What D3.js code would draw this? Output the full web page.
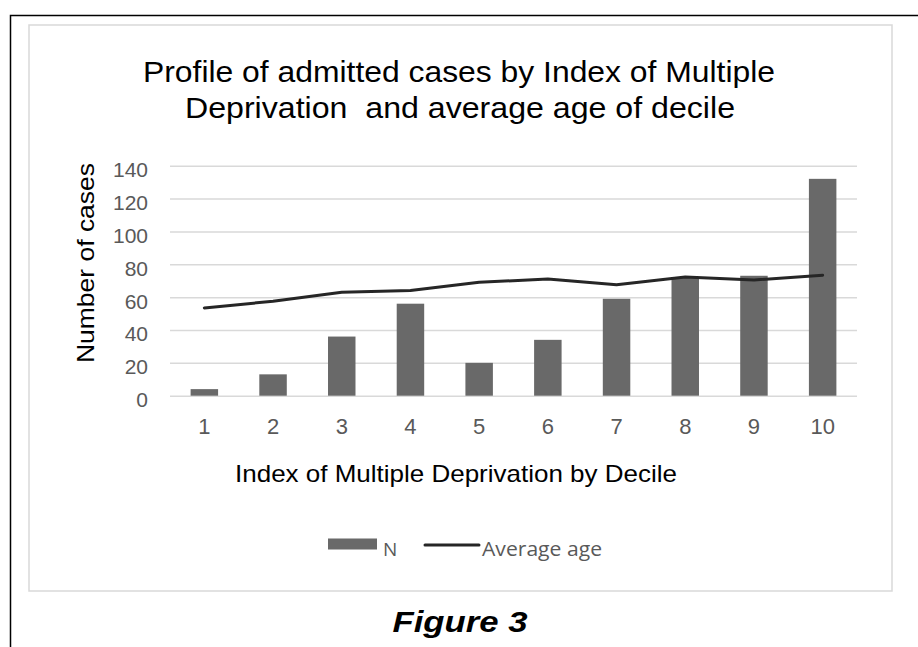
<!DOCTYPE html>
<html>
<head>
<meta charset="utf-8">
<script src="https://cdn.jsdelivr.net/npm/d3@7"></script>
<style>
  html, body { margin: 0; padding: 0; background: #fff; }
  svg { display: block; }
</style>
</head>
<body>
<svg id="chart" width="918" height="647"></svg>
<script>
const deciles = ["1", "2", "3", "4", "5", "6", "7", "8", "9", "10"];
const casesN = [4, 13, 36, 56, 20, 34, 59, 72, 73, 132];
const averageAge = [53.4, 57.5, 63, 64, 69, 71, 67.6, 72.2, 70.4, 73.3];
const yTicks = [0, 20, 40, 60, 80, 100, 120, 140];
const titleLines = ["Profile of admitted cases by Index of Multiple", "Deprivation  and average age of decile"];
const xTitle = "Index of Multiple Deprivation by Decile";
const yTitle = "Number of cases";
const legendLabels = ["N", "Average age"];
const caption = "Figure 3";

(function () {
const svg = d3.select("#chart");
svg.append("rect").attr("width", 918).attr("height", 647).attr("fill", "#fff");

// outer black frame (right/bottom clipped)
svg.append("path").attr("d", "M10.5,647 V15.5 H918")
  .attr("fill", "none").attr("stroke", "#000").attr("stroke-width", 1.5);

// chart area frame
svg.append("rect").attr("x", 29).attr("y", 25).attr("width", 863).attr("height", 566)
  .attr("fill", "#fff").attr("stroke", "#d9d9d9").attr("stroke-width", 1.5);

const pLeft = 170, pRight = 857, pTop = 165.7, pBottom = 395.7;
const x = d3.scaleBand().domain(deciles).range([pLeft, pRight]).paddingInner(0.6).paddingOuter(0.3);
const xc = d3.scaleBand().domain(deciles).range([pLeft, pRight]);
const y = d3.scaleLinear().domain([0, 140]).range([pBottom, pTop]);
const font = "'Liberation Sans', Arial, sans-serif";

// gridlines + y labels
const yAxis = svg.append("g").attr("transform", `translate(${pLeft},0)`)
  .call(d3.axisLeft(y).tickValues(yTicks).tickSize(-(pRight - pLeft)).tickPadding(22));
yAxis.select(".domain").remove();
yAxis.selectAll(".tick line").attr("stroke", "#d9d9d9").attr("stroke-width", 1.5);
yAxis.selectAll(".tick text").attr("fill", "#595959").attr("dy", "0.52em")
  .style("font-family", font).style("font-size", "21px");

// x labels
const xAxis = svg.append("g").attr("transform", `translate(0,${pBottom})`)
  .call(d3.axisBottom(xc).tickSize(0).tickPadding(23));
xAxis.select(".domain").remove();
xAxis.selectAll(".tick text").attr("fill", "#595959")
  .style("font-family", font).style("font-size", "22px");

// bars
svg.append("g").selectAll("rect").data(casesN).enter().append("rect")
  .attr("x", (d, i) => x(deciles[i]))
  .attr("y", d => y(d))
  .attr("width", x.bandwidth())
  .attr("height", d => y(0) - y(d))
  .attr("fill", "#696969");

// line
const line = d3.line().x((d, i) => xc(deciles[i]) + xc.bandwidth() / 2).y(d => y(d));
svg.append("path").datum(averageAge).attr("d", line)
  .attr("fill", "none").attr("stroke", "#262626").attr("stroke-width", 3)
  .attr("stroke-linejoin", "round").attr("stroke-linecap", "round");

// title
svg.append("text").attr("x", 459).attr("y", 82).attr("text-anchor", "middle")
  .attr("textLength", 632).attr("lengthAdjust", "spacingAndGlyphs")
  .style("white-space", "pre")
  .style("font-family", font).style("font-size", "29px").attr("fill", "#000").text(titleLines[0]);
svg.append("text").attr("x", 460).attr("y", 118).attr("text-anchor", "middle")
  .attr("textLength", 550).attr("lengthAdjust", "spacingAndGlyphs")
  .style("white-space", "pre")
  .style("font-family", font).style("font-size", "29px").attr("fill", "#000").text(titleLines[1]);

// axis titles
svg.append("text").attr("transform", "translate(94,263) rotate(-90)").attr("text-anchor", "middle")
  .attr("textLength", 200).attr("lengthAdjust", "spacingAndGlyphs")
  .style("font-family", font).style("font-size", "24px").attr("fill", "#000").text(yTitle);
svg.append("text").attr("x", 456).attr("y", 482).attr("text-anchor", "middle")
  .attr("textLength", 442).attr("lengthAdjust", "spacingAndGlyphs")
  .style("font-family", font).style("font-size", "24px").attr("fill", "#000").text(xTitle);

// legend
const lg = svg.append("g");
lg.append("rect").attr("x", 328).attr("y", 538.5).attr("width", 49).attr("height", 11).attr("fill", "#696969");
lg.append("text").attr("x", 383).attr("y", 556).attr("fill", "#595959")
  .style("font-family", "'Open Sans', sans-serif").style("font-size", "19px").text(legendLabels[0]);
lg.append("line").attr("x1", 425).attr("x2", 479).attr("y1", 545).attr("y2", 545)
  .attr("stroke", "#262626").attr("stroke-width", 3).attr("stroke-linecap", "round");
lg.append("text").attr("x", 482).attr("y", 556).attr("fill", "#595959")
  .attr("textLength", 120).attr("lengthAdjust", "spacingAndGlyphs")
  .style("font-family", "'Open Sans', sans-serif").style("font-size", "19.5px").text(legendLabels[1]);

// caption
svg.append("text").attr("x", 460).attr("y", 632).attr("text-anchor", "middle")
  .attr("textLength", 135).attr("lengthAdjust", "spacingAndGlyphs")
  .style("font-family", font).style("font-size", "30px").style("font-weight", "bold").style("font-style", "italic")
  .attr("fill", "#000").text(caption);
})();
</script>
</body>
</html>
